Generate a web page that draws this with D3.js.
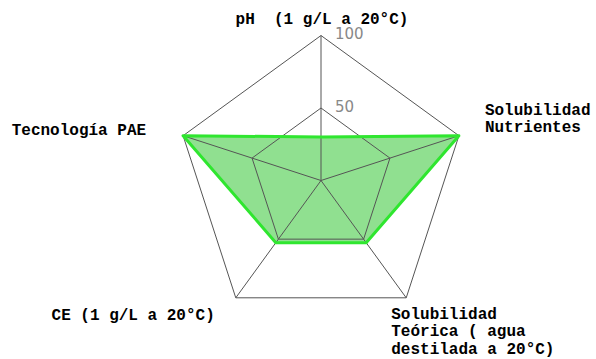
<!DOCTYPE html>
<html>
<head>
    <meta charset="utf-8">
    <script src="https://d3js.org/d3.v7.min.js"></script>
    <style>
        body { margin: 0; background: #fff; }
    </style>
</head>
<body>
    <svg id="radar" width="596" height="359"></svg>
    <script>
        // ejes (en sentido horario desde arriba)
        var axes = [
            ["pH  (1 g/L a 20°C)"],
            ["Solubilidad", "Nutrientes"],
            ["Solubilidad", "Teórica ( agua", "destilada a 20°C)"],
            ["CE (1 g/L a 20°C)"],
            ["Tecnología PAE"]
        ];
        var values = [30, 100, 53, 53, 100];
        var levels = [50, 100];

        var svg = d3.select("#radar");
        var cx = 321, cy = 180.5, R = 145;

        var rScale = d3.scaleLinear().domain([0, 100]).range([0, R]);
        var angle = d3.scaleLinear().domain([0, axes.length]).range([0, 2 * Math.PI]);

        function pt(i, v) {
            var a = angle(i);
            return [cx + rScale(v) * Math.sin(a), cy - rScale(v) * Math.cos(a)];
        }

        // area de datos
        var line = d3.line().curve(d3.curveLinearClosed);
        svg.append("path")
            .attr("d", line(values.map(function (v, i) { return pt(i, v); })))
            .attr("fill", "rgba(20,190,20,0.47)")
            .attr("stroke", "none");

        // rejilla
        var grid = svg.append("g");
        levels.forEach(function (lv) {
            grid.append("path")
                .attr("d", line(axes.map(function (d, i) { return pt(i, lv); })))
                .attr("fill", "none")
                .attr("stroke", "#555")
                .attr("stroke-width", 1);
        });
        axes.forEach(function (d, i) {
            var p = pt(i, 100);
            grid.append("line")
                .attr("x1", cx).attr("y1", cy)
                .attr("x2", p[0]).attr("y2", p[1])
                .attr("stroke", "#555")
                .attr("stroke-width", 1);
        });

        // borde verde
        svg.append("path")
            .attr("d", line(values.map(function (v, i) { return pt(i, v); })))
            .attr("fill", "none")
            .attr("stroke", "#2fe62f")
            .attr("stroke-width", 3)
            .attr("stroke-linejoin", "round");

        // etiquetas de nivel
        levels.forEach(function (lv) {
            svg.append("text")
                .attr("x", cx + 14)
                .attr("y", pt(0, lv)[1] + 3.5)
                .attr("font-family", "DejaVu Sans, sans-serif")
                .attr("font-size", 15)
                .attr("fill", "#888")
                .text(lv);
        });

        // etiquetas de ejes
        var lab = [
            { dx: 1, dy: -12, anchor: "middle" },
            { dx: 26, dy: -20.7, anchor: "start" },
            { dx: -15, dy: 21, anchor: "start" },
            { dx: -21, dy: 22, anchor: "end" },
            { dx: -37, dy: -0.7, anchor: "end" }
        ];
        axes.forEach(function (lines, i) {
            var p = pt(i, 100);
            var t = svg.append("text")
                .attr("font-family", "Liberation Mono, monospace")
                .attr("font-weight", "bold")
                .attr("font-size", 16)
                .attr("fill", "#000")
                .attr("text-anchor", lab[i].anchor)
                .attr("xml:space", "preserve")
                .style("white-space", "pre");
            lines.forEach(function (s, j) {
                t.append("tspan")
                    .attr("x", p[0] + lab[i].dx)
                    .attr("y", p[1] + lab[i].dy + j * 17.5)
                    .text(s);
            });
        });
    </script>
</body>
</html>
